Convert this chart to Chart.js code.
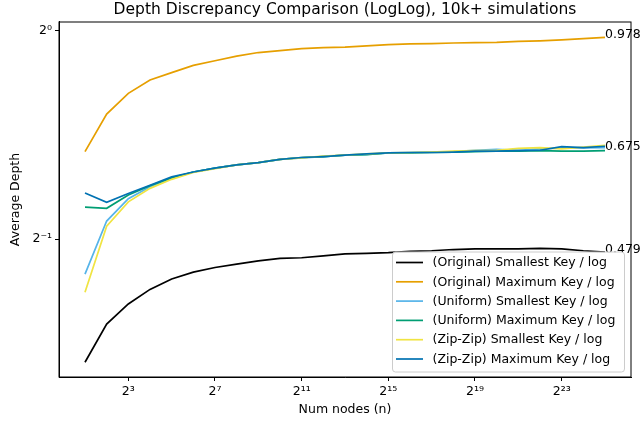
<!DOCTYPE html>
<html>
<head>
<meta charset="utf-8">
<script src="https://cdn.jsdelivr.net/npm/chart.js@4/dist/chart.umd.min.js"></script>
<style>
  html, body { margin: 0; padding: 0; background: #fff; }
</style>
</head>
<body>
<canvas id="depthChart" width="642" height="424"></canvas>
<script>
// n = 2^1 .. 2^25
const nodeCounts = [2, 4, 8, 16, 32, 64, 128, 256, 512, 1024, 2048, 4096, 8192, 16384, 32768,
  65536, 131072, 262144, 524288, 1048576, 2097152, 4194304, 8388608, 16777216, 33554432];

const originalSmallest = [0.332, 0.377, 0.403, 0.423, 0.438, 0.448, 0.455, 0.460, 0.465, 0.469, 0.470, 0.473, 0.476,
  0.477, 0.478, 0.480, 0.481, 0.483, 0.484, 0.484, 0.484, 0.485, 0.484, 0.481, 0.479];
const originalMaximum = [0.669, 0.758, 0.812, 0.849, 0.870, 0.891, 0.905, 0.919, 0.930, 0.936, 0.942, 0.945, 0.947,
  0.951, 0.955, 0.957, 0.958, 0.960, 0.961, 0.962, 0.965, 0.967, 0.970, 0.974, 0.978];
const uniformSmallest = [0.445, 0.531, 0.572, 0.595, 0.612, 0.625, 0.633, 0.640, 0.645, 0.652, 0.655, 0.658, 0.661,
  0.663, 0.666, 0.667, 0.668, 0.669, 0.672, 0.674, 0.672, 0.675, 0.677, 0.677, 0.678];
const uniformMaximum = [0.556, 0.554, 0.579, 0.597, 0.613, 0.625, 0.633, 0.640, 0.645, 0.652, 0.656, 0.658, 0.661,
  0.662, 0.666, 0.666, 0.667, 0.668, 0.669, 0.670, 0.670, 0.671, 0.670, 0.670, 0.671];
const zipSmallest = [0.419, 0.522, 0.566, 0.592, 0.610, 0.624, 0.632, 0.640, 0.645, 0.652, 0.655, 0.659, 0.661,
  0.664, 0.666, 0.667, 0.668, 0.670, 0.671, 0.672, 0.676, 0.678, 0.675, 0.679, 0.683];
const zipMaximum = [0.583, 0.565, 0.582, 0.598, 0.615, 0.625, 0.633, 0.640, 0.645, 0.652, 0.656, 0.658, 0.661,
  0.664, 0.666, 0.667, 0.667, 0.668, 0.670, 0.670, 0.671, 0.672, 0.680, 0.678, 0.681];

const seriesNames = ['(Original) Smallest Key / log', '(Original) Maximum Key / log', '(Uniform) Smallest Key / log',
  '(Uniform) Maximum Key / log', '(Zip-Zip) Smallest Key / log', '(Zip-Zip) Maximum Key / log'];
const seriesValues = [originalSmallest, originalMaximum, uniformSmallest, uniformMaximum, zipSmallest, zipMaximum];
const seriesColors = ['#000000', '#E69F00', '#56B4E9', '#009E73', '#F0E442', '#0072B2'];

const xTickValues = [8, 128, 2048, 32768, 524288, 8388608];
const xTickLabels = ['2³', '2⁷', '2¹¹', '2¹⁵', '2¹⁹', '2²³'];
const yTickValues = [0.5, 1];
const yTickLabels = ['2⁻¹', '2⁰'];
const endLabelValues = [0.978, 0.675, 0.479];

const FONT = 'DejaVu Sans';
Chart.defaults.font.family = FONT;
Chart.defaults.color = '#000';

const datasets = seriesNames.map((name, i) => ({
  label: name,
  data: nodeCounts.map((n, j) => ({ x: n, y: seriesValues[i][j] })),
  borderColor: seriesColors[i],
  backgroundColor: seriesColors[i],
  borderWidth: 1.7,
  pointRadius: 0,
  tension: 0,
  order: seriesNames.length - i
}));

// frame, end value labels and the legend box inside the plot
const extrasPlugin = {
  id: 'extras',
  afterDraw(chart) {
    const { ctx, chartArea: a, scales: { x, y } } = chart;
    ctx.save();
    ctx.strokeStyle = '#000';
    ctx.lineWidth = 1;
    ctx.strokeRect(a.left, a.top, a.right - a.left, a.bottom - a.top);

    ctx.font = '12.5px "' + FONT + '"';
    ctx.fillStyle = '#000';
    ctx.textAlign = 'left';
    ctx.textBaseline = 'alphabetic';
    const lastX = x.getPixelForValue(nodeCounts[nodeCounts.length - 1]);
    endLabelValues.forEach(v => ctx.fillText(v.toFixed(3), lastX, y.getPixelForValue(v) + 1));

    const boxW = 232, boxH = 120;
    const left = a.right - 239, top = a.bottom - 125.5;
    ctx.beginPath();
    ctx.roundRect(left + 0.5, top + 0.5, boxW, boxH, 3);
    ctx.fillStyle = 'rgba(255,255,255,0.85)';
    ctx.fill();
    ctx.strokeStyle = '#cccccc';
    ctx.stroke();
    ctx.textBaseline = 'middle';
    seriesNames.forEach((name, i) => {
      const ry = top + 11 + i * 19.3;
      ctx.beginPath();
      ctx.moveTo(left + 4, ry);
      ctx.lineTo(left + 31, ry);
      ctx.strokeStyle = seriesColors[i];
      ctx.lineWidth = 1.7;
      ctx.stroke();
      ctx.fillStyle = '#000';
      ctx.fillText(name, left + 40.5, ry + 0.5);
    });
    ctx.restore();
  }
};

const tickFont = { family: FONT, size: 12.5 };

new Chart(document.getElementById('depthChart'), {
  type: 'line',
  data: { datasets: datasets },
  options: {
    responsive: false,
    animation: false,
    layout: { padding: { top: 0, right: 11, bottom: 0, left: 0 } },
    plugins: {
      legend: { display: false },
      tooltip: { enabled: false },
      title: {
        display: true,
        fullSize: false,
        text: 'Depth Discrepancy Comparison (LogLog), 10k+ simulations',
        color: '#000',
        font: { family: FONT, size: 15.5, weight: 'normal' },
        padding: { top: 1, bottom: 2.4 }
      }
    },
    scales: {
      x: {
        type: 'logarithmic',
        bounds: 'data',
        min: 0.8706,
        max: 77087000,
        afterBuildTicks: s => { s.ticks = xTickValues.map(v => ({ value: v })); },
        afterFit: s => { s.height = 47; },
        ticks: { callback: (v, i) => xTickLabels[i], color: '#000', font: tickFont, maxRotation: 0, autoSkip: false, padding: 3 },
        grid: { drawOnChartArea: false, tickLength: 4, color: '#000' },
        border: { color: '#000' },
        title: { display: true, text: 'Num nodes (n)', color: '#000', font: tickFont, padding: { top: 0, bottom: 6.5 } }
      },
      y: {
        type: 'logarithmic',
        bounds: 'data',
        min: 0.3161,
        max: 1.0294,
        afterBuildTicks: s => { s.ticks = yTickValues.map(v => ({ value: v })); },
        afterFit: s => { s.width = 59; },
        ticks: { callback: (v, i) => yTickLabels[i], color: '#000', font: tickFont, autoSkip: false, padding: 3 },
        grid: { drawOnChartArea: false, tickLength: 4, color: '#000' },
        border: { color: '#000' },
        title: { display: true, text: 'Average Depth', color: '#000', font: tickFont, padding: { top: 8.5, bottom: 0 } }
      }
    }
  },
  plugins: [extrasPlugin]
});
</script>
</body>
</html>
